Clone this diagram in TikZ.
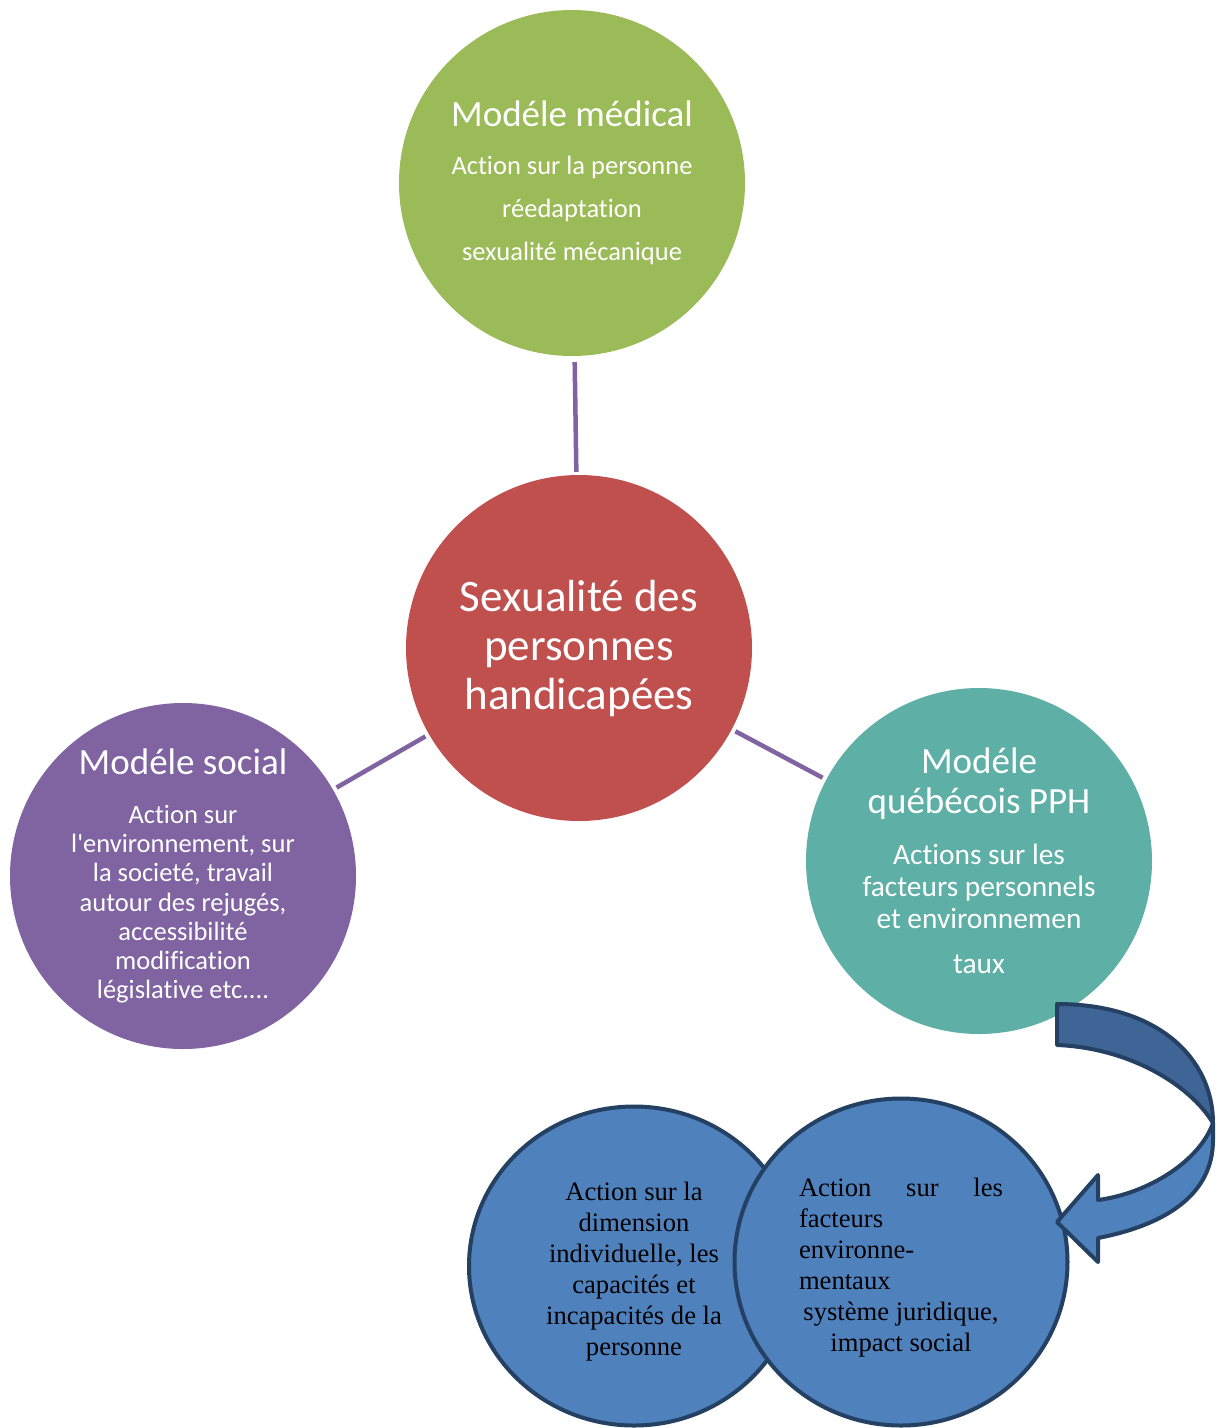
\documentclass[tikz,border=0pt]{standalone}
\usepackage{fontspec}
\setmainfont{Carlito}[Ligatures={NoCommon}]
\newfontfamily\serifbody{Liberation Serif}
\usetikzlibrary{shapes.geometric}
\definecolor{medgreen}{RGB}{155,187,89}
\definecolor{sexred}{RGB}{192,80,77}
\definecolor{socpurple}{RGB}{128,100,162}
\definecolor{pphteal}{RGB}{94,175,166}
\definecolor{actblue}{RGB}{79,129,189}
\definecolor{actdark}{RGB}{36,64,98}
\definecolor{arrowback}{RGB}{63,101,151}

\begin{document}
\begin{tikzpicture}[x=1pt, y=-1pt,
  bubble/.style = {circle, minimum size=346pt, inner sep=0pt, text=white, align=center},
  action/.style = {ellipse, draw=actdark, line width=4pt, fill=actblue, inner sep=0pt, font=\serifbody\fontsize{26.6}{31}\selectfont},
  link/.style = {draw=socpurple, line width=4.5pt, shorten <=4pt, shorten >=4pt}]
\useasboundingbox (0,0) rectangle (1218,1428);
\node[bubble, fill=medgreen, font=\fontsize{26.5}{43}\selectfont] (med) at (572,183) {{\fontsize{37}{43}\selectfont Modéle médical}\\[5pt] Action sur la personne\\ réedaptation\\ sexualité mécanique};
\node[bubble, fill=sexred, font=\fontsize{45}{49}\selectfont] (ctr) at (579,648) {Sexualité des\\ personnes\\ handicapées};
\node[bubble, fill=socpurple, font=\fontsize{26.5}{29.2}\selectfont] (soc) at (183,876) {{\fontsize{37}{40}\selectfont Modéle social}\\[20pt] Action sur\\ l\textquotesingle environnement, sur\\ la societé, travail\\ autour des rejugés,\\ accessibilité\\ modification\\ législative etc....};
\node[bubble, fill=pphteal, font=\fontsize{29.4}{32}\selectfont] (pph) at (979,861) {{\fontsize{37}{40}\selectfont Modéle}\\[8pt] {\fontsize{37}{40}\selectfont québécois PPH}\\[19pt] Actions sur les\\ facteurs personnels\\ et environnemen\\[13pt] taux};
\draw[link, shorten <=6pt, shorten >=3pt] (med) -- (ctr);
\draw[link] (ctr) -- (soc);
\draw[link] (ctr) -- (pph);
% bottom pair
\node[action, minimum width=330pt, minimum height=319pt] (indiv) at (634,1266) {\parbox{200pt}{\vspace*{11pt}\centering Action sur la\\ dimension\\ individuelle, les\\ capacités et\\ incapacités de la\\ personne\par}};
\node[action, minimum width=333pt, minimum height=327pt] (envir) at (901,1262) {\parbox{204pt}{\vspace*{11pt}\hbox to 204pt{Action\hfill sur\hfill les}\raggedright facteurs\\ environne-\\ mentaux\par\centering système juridique,\\ impact social\par}};
% curved arrow from pph down to envir
\draw[actdark, line width=4pt, fill=actblue, line join=round] (1213,1123) .. controls (1200,1160) and (1150,1193) .. (1098,1200) -- (1098,1175) -- (1057,1222) -- (1098,1262) -- (1098,1238) .. controls (1165,1225) and (1213,1195) .. (1213,1140) -- cycle;
\draw[actdark, line width=4pt, fill=arrowback, line join=round] (1057,1004) .. controls (1160,1004) and (1213,1060) .. (1213,1123) .. controls (1190,1085) and (1130,1048) .. (1057,1045) -- cycle;
\end{tikzpicture}
\end{document}
